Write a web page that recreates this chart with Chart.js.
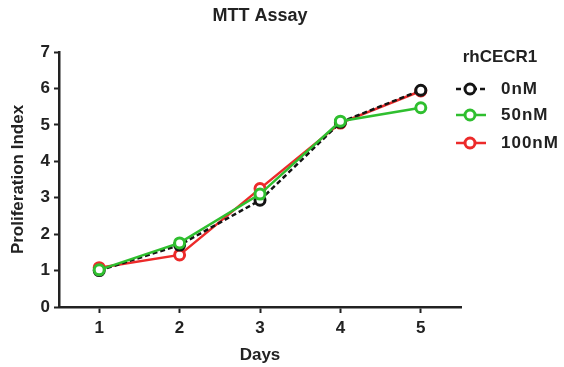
<!DOCTYPE html>
<html lang="en">
<head>
    <meta charset="UTF-8">
    <title>MTT Assay</title>
    <script src="https://cdn.jsdelivr.net/npm/chart.js"></script>
    <style>
        html, body {
            margin: 0;
            padding: 0;
            background: #fff;
        }
        .chart-container {
            width: 564px;
            height: 367px;
        }
    </style>
</head>
<body>
    <div class="chart-container">
        <canvas id="mttChart"></canvas>
    </div>
    <script>
        // Data
        const days = ['1', '2', '3', '4', '5'];
        const yTicks = [0, 1, 2, 3, 4, 5, 6, 7];
        const series0nM = [1.00, 1.70, 2.93, 5.07, 5.95];
        const series50nM = [1.02, 1.76, 3.10, 5.10, 5.47];
        const series100nM = [1.08, 1.43, 3.25, 5.05, 5.93];

        const axisColor = '#222';
        const fontFamily = '"Liberation Sans", Arial, sans-serif';
        Chart.defaults.font.family = fontFamily;
        Chart.defaults.font.weight = 'bold';
        Chart.defaults.color = '#222';

        function lineSet(label, data, color, dash, order) {
            return {
                label: label,
                data: data,
                borderColor: color,
                backgroundColor: '#fff',
                pointBorderColor: color,
                pointBackgroundColor: '#fff',
                borderWidth: 2.5,
                borderDash: dash,
                pointRadius: 5,
                pointBorderWidth: 3,
                tension: 0,
                order: order
            };
        }

        // Title centred over the plot area, legend on the right (line + circle symbols)
        const titleAndLegend = {
            id: 'titleAndLegend',
            afterDraw(chart) {
                const ctx = chart.ctx;
                const area = chart.chartArea;
                ctx.save();
                ctx.fillStyle = '#222';
                ctx.textAlign = 'center';
                ctx.textBaseline = 'middle';
                ctx.font = 'bold 18px ' + fontFamily;
                ctx.fillText('MTT Assay', (area.left + area.right) / 2, 16);

                ctx.font = 'bold 17px ' + fontFamily;
                ctx.fillText('rhCECR1', 500, 57);
                const rows = [89, 115, 143];
                chart.data.datasets.forEach((ds, i) => {
                    const y = rows[i];
                    ctx.strokeStyle = ds.borderColor;
                    ctx.lineWidth = 2.5;
                    ctx.setLineDash(ds.borderDash || []);
                    ctx.beginPath();
                    ctx.moveTo(456, y);
                    ctx.lineTo(486, y);
                    ctx.stroke();
                    ctx.setLineDash([]);
                    ctx.beginPath();
                    ctx.arc(470, y, 5, 0, Math.PI * 2);
                    ctx.fillStyle = '#fff';
                    ctx.fill();
                    ctx.lineWidth = 3;
                    ctx.stroke();
                    ctx.fillStyle = '#222';
                    ctx.textAlign = 'left';
                    ctx.letterSpacing = '1px';
                    ctx.fillText(ds.label, 501, y);
                    ctx.letterSpacing = '0px';
                });
                ctx.restore();
            }
        };

        new Chart(document.getElementById('mttChart'), {
            type: 'line',
            data: {
                labels: days,
                datasets: [
                    lineSet('0nM', series0nM, '#141414', [5, 3], 1),
                    lineSet('50nM', series50nM, '#2fbf2f', [], 0),
                    lineSet('100nM', series100nM, '#ec2a2a', [], 2)
                ]
            },
            plugins: [titleAndLegend],
            options: {
                responsive: true,
                maintainAspectRatio: false,
                animation: false,
                layout: {
                    padding: { left: 0, right: 103, top: 52, bottom: 0 }
                },
                plugins: {
                    legend: { display: false },
                    tooltip: { enabled: false },
                    title: { display: false }
                },
                scales: {
                    x: {
                        type: 'category',
                        offset: true,
                        grid: {
                            offset: false,
                            drawOnChartArea: false,
                            drawTicks: true,
                            tickLength: 6,
                            tickWidth: 2,
                            tickColor: axisColor
                        },
                        border: { color: axisColor, width: 2.5 },
                        ticks: {
                            font: { size: 17, weight: 'bold' },
                            padding: 5,
                            maxRotation: 0
                        },
                        title: {
                            display: true,
                            text: 'Days',
                            font: { size: 17, weight: 'bold' },
                            padding: { top: 0, bottom: 1 }
                        },
                        afterFit(scale) { scale.height = 60; }
                    },
                    y: {
                        min: 0,
                        max: 7,
                        afterBuildTicks(scale) {
                            scale.ticks = yTicks.map(v => ({ value: v }));
                        },
                        grid: {
                            drawOnChartArea: false,
                            drawTicks: true,
                            tickLength: 5,
                            tickWidth: 2,
                            tickColor: axisColor
                        },
                        border: { color: axisColor, width: 2.5 },
                        ticks: {
                            font: { size: 17, weight: 'bold' },
                            padding: 4
                        },
                        title: {
                            display: true,
                            text: 'Proliferation Index',
                            font: { size: 17, weight: 'bold' },
                            padding: { top: 8, bottom: 0 }
                        },
                        afterFit(scale) { scale.width = 59; }
                    }
                }
            }
        });
    </script>
</body>
</html>
